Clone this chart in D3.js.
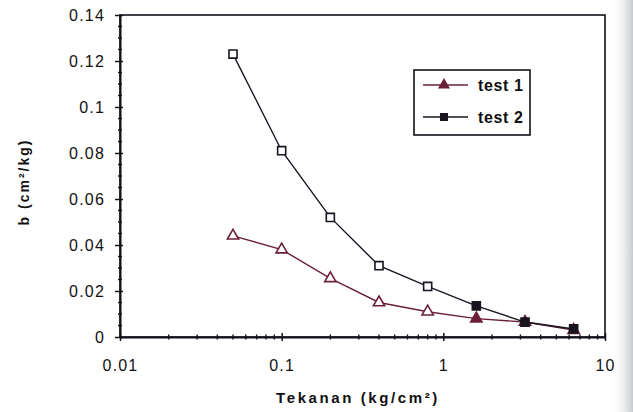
<!DOCTYPE html>
<html>
<head>
<meta charset="utf-8">
<script src="https://cdn.jsdelivr.net/npm/d3@7"></script>
<style>
  html, body { margin: 0; padding: 0; background: #fff; }
  svg { display: block; font-family: "Liberation Sans", Arial, sans-serif; }
</style>
</head>
<body>
<svg id="chart" width="633" height="412"></svg>
<script>
// Pressure steps (kg/cm²) and measured coefficient b for the two tests
const pressure = [0.05, 0.1, 0.2, 0.4, 0.8, 1.6, 3.2, 6.4];
const test1 = [0.044, 0.038, 0.0255, 0.015, 0.011, 0.008, 0.0065, 0.003];
const test2 = [0.123, 0.081, 0.052, 0.031, 0.022, 0.0135, 0.0065, 0.0035];
const seriesNames = ["test 1", "test 2"];
const yTicks = [0, 0.02, 0.04, 0.06, 0.08, 0.1, 0.12, 0.14];
const yTickLabels = ["0", "0.02", "0.04", "0.06", "0.08", "0.1", "0.12", "0.14"];
const xTicks = [0.01, 0.1, 1, 10];
const xTickLabels = ["0.01", "0.1", "1", "10"];

const svg = d3.select("#chart");
const W = 633, H = 412;
const m = { left: 120, right: 28, top: 15, bottom: 75 };

// scanned page tint along the right edge
const defs = svg.append("defs");
const g0 = defs.append("linearGradient").attr("id", "edge").attr("x1", 0).attr("x2", 1);
g0.append("stop").attr("offset", 0).attr("stop-color", "#fff").attr("stop-opacity", 0);
g0.append("stop").attr("offset", 1).attr("stop-color", "#c9cbd0").attr("stop-opacity", 1);
svg.append("rect").attr("x", 610).attr("y", 0).attr("width", 23).attr("height", H).attr("fill", "url(#edge)");

const x = d3.scaleLog().domain([0.01, 10]).range([m.left, W - m.right]);
const y = d3.scaleLinear().domain([0, 0.14]).range([H - m.bottom, m.top]);

const ink = "#141018";

// plot frame
svg.append("rect")
  .attr("x", x(0.01)).attr("y", y(0.14))
  .attr("width", x(10) - x(0.01)).attr("height", y(0) - y(0.14))
  .attr("fill", "none").attr("stroke", ink).attr("stroke-width", 1.6);

// y axis: major ticks with labels, minor ticks every 0.005
const yAxis = svg.append("g").attr("transform", `translate(${x(0.01)},0)`)
  .call(d3.axisLeft(y).tickValues(yTicks).tickSize(5).tickSizeOuter(0)
    .tickFormat((d, i) => yTickLabels[i]));
yAxis.select(".domain").attr("stroke", ink).attr("stroke-width", 2);
yAxis.selectAll(".tick line").attr("stroke", ink).attr("stroke-width", 1.5).attr("x2", -5).attr("x1", 3);
yAxis.selectAll(".tick text").attr("font-size", 16).attr("letter-spacing", 1.2)
  .attr("fill", "#111").attr("x", -15).attr("dy", "0.36em");
const yMinor = d3.range(0, 0.1401, 0.005).filter(v => Math.abs(v / 0.02 - Math.round(v / 0.02)) > 1e-6);
svg.append("g").selectAll("line").data(yMinor).join("line")
  .attr("x1", x(0.01) - 2).attr("x2", x(0.01) + 2)
  .attr("y1", d => y(d)).attr("y2", d => y(d))
  .attr("stroke", ink).attr("stroke-width", 1.4);

// x axis: log decades with 2..9 minor ticks
const xAxis = svg.append("g").attr("transform", `translate(0,${y(0)})`)
  .call(d3.axisBottom(x).tickValues(xTicks).tickSize(5).tickSizeOuter(0)
    .tickFormat((d, i) => xTickLabels[i]));
xAxis.select(".domain").attr("stroke", ink).attr("stroke-width", 2);
xAxis.selectAll(".tick line").attr("stroke", ink).attr("stroke-width", 1.5).attr("y1", -4).attr("y2", 4);
xAxis.selectAll(".tick text").attr("font-size", 16).attr("letter-spacing", 1.2)
  .attr("fill", "#111").attr("y", 23);
const xMinor = [];
[0.01, 0.1, 1].forEach(d => { for (let k = 2; k <= 9; k++) xMinor.push(d * k); });
svg.append("g").selectAll("line").data(xMinor).join("line")
  .attr("x1", d => x(d)).attr("x2", d => x(d))
  .attr("y1", y(0) - 2.5).attr("y2", y(0) + 2.5)
  .attr("stroke", ink).attr("stroke-width", 1.4);

// axis titles
svg.append("text").attr("x", 358).attr("y", 403).attr("text-anchor", "middle")
  .attr("font-size", 15).attr("font-weight", "bold").attr("letter-spacing", 2.6).attr("fill", "#111")
  .text("Tekanan (kg/cm²)");
svg.append("text").attr("transform", "translate(29,182) rotate(-90)").attr("text-anchor", "middle")
  .attr("font-size", 14).attr("font-weight", "bold").attr("letter-spacing", 2).attr("fill", "#111")
  .text("b (cm²/kg)");

// series
const colors = ["#6b2038", "#1a1420"];
const data = [test1, test2];
const line = d3.line().x(d => x(d[0])).y(d => y(d[1]));
const symbols = [d3.symbolTriangle, d3.symbolSquare];

data.forEach((vals, s) => {
  const pts = pressure.map((p, i) => [p, vals[i]]);
  svg.append("path").datum(pts).attr("d", line)
    .attr("fill", "none").attr("stroke", colors[s]).attr("stroke-width", 1.4);
  svg.append("g").selectAll("path").data(pts).join("path")
    .attr("transform", d => `translate(${x(d[0])},${y(d[1])})`)
    .attr("d", d3.symbol().type(symbols[s]).size(s === 0 ? 55 : 65))
    .attr("fill", (d, i) => i >= 5 ? colors[s] : "#fff")
    .attr("stroke", colors[s]).attr("stroke-width", 1.6);
});

// legend
const lg = svg.append("g");
lg.append("rect").attr("x", 414).attr("y", 70).attr("width", 116).attr("height", 65)
  .attr("fill", "#fff").attr("stroke", ink).attr("stroke-width", 1.6);
seriesNames.forEach((name, s) => {
  const ly = 85 + s * 32;
  lg.append("line").attr("x1", 423).attr("x2", 468).attr("y1", ly).attr("y2", ly)
    .attr("stroke", colors[s]).attr("stroke-width", 1.6);
  lg.append("path").attr("transform", `translate(444,${ly})`)
    .attr("d", d3.symbol().type(symbols[s]).size(s === 0 ? 40 : 45))
    .attr("fill", colors[s]).attr("stroke", colors[s]).attr("stroke-width", 1.4);
  lg.append("text").attr("x", 478).attr("y", ly).attr("dy", "0.36em")
    .attr("font-size", 16).attr("font-weight", "bold").attr("letter-spacing", 0.6)
    .attr("fill", "#111").text(name);
});
</script>
</body>
</html>
